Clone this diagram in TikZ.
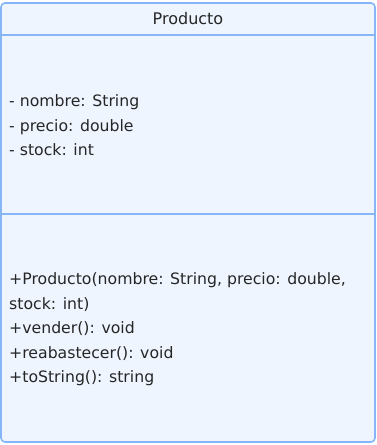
\documentclass[tikz,border=0pt]{standalone}
\usepackage{fontspec}
\setmainfont{DejaVu Sans}
\usetikzlibrary{positioning}

\definecolor{umlfill}{HTML}{EEF5FF}
\definecolor{umlline}{HTML}{86B6F8}
\definecolor{umltext}{HTML}{262626}

\tikzset{
  umlrow/.style={anchor=west, align=left, text=umltext, inner sep=0pt,
    font=\fontsize{15.7}{24.5}\selectfont},
}

\begin{document}
\begin{tikzpicture}[x=1pt, y=-1pt]
\useasboundingbox (0,0) rectangle (376,445);

% ======================================
% THE CLASS BOX
% ======================================
\draw[umlline, fill=umlfill, line width=1.6pt, rounded corners=4pt] (1,3) rectangle (375,442);
\draw[umlline, line width=1.3pt] (1,35) -- (375,35);
\draw[umlline, line width=1.3pt] (1,214) -- (375,214);

% ======================================
% NAME
% ======================================
\node[text=umltext, font=\fontsize{16}{19}\selectfont] (name) at (188,19) {Producto};

% ======================================
% ATTRIBUTES
% ======================================
\node[umlrow] (attrs) at (9,125.5) {- nombre: String\\- precio: double\\- stock: int};

% ======================================
% OPERATIONS
% ======================================
\node[umlrow] (ops) at (9,329.5) {+Producto(nombre: String, precio: double,\\stock: int)\\+vender(): void\\+reabastecer(): void\\+toString(): string};

\end{tikzpicture}
\end{document}
